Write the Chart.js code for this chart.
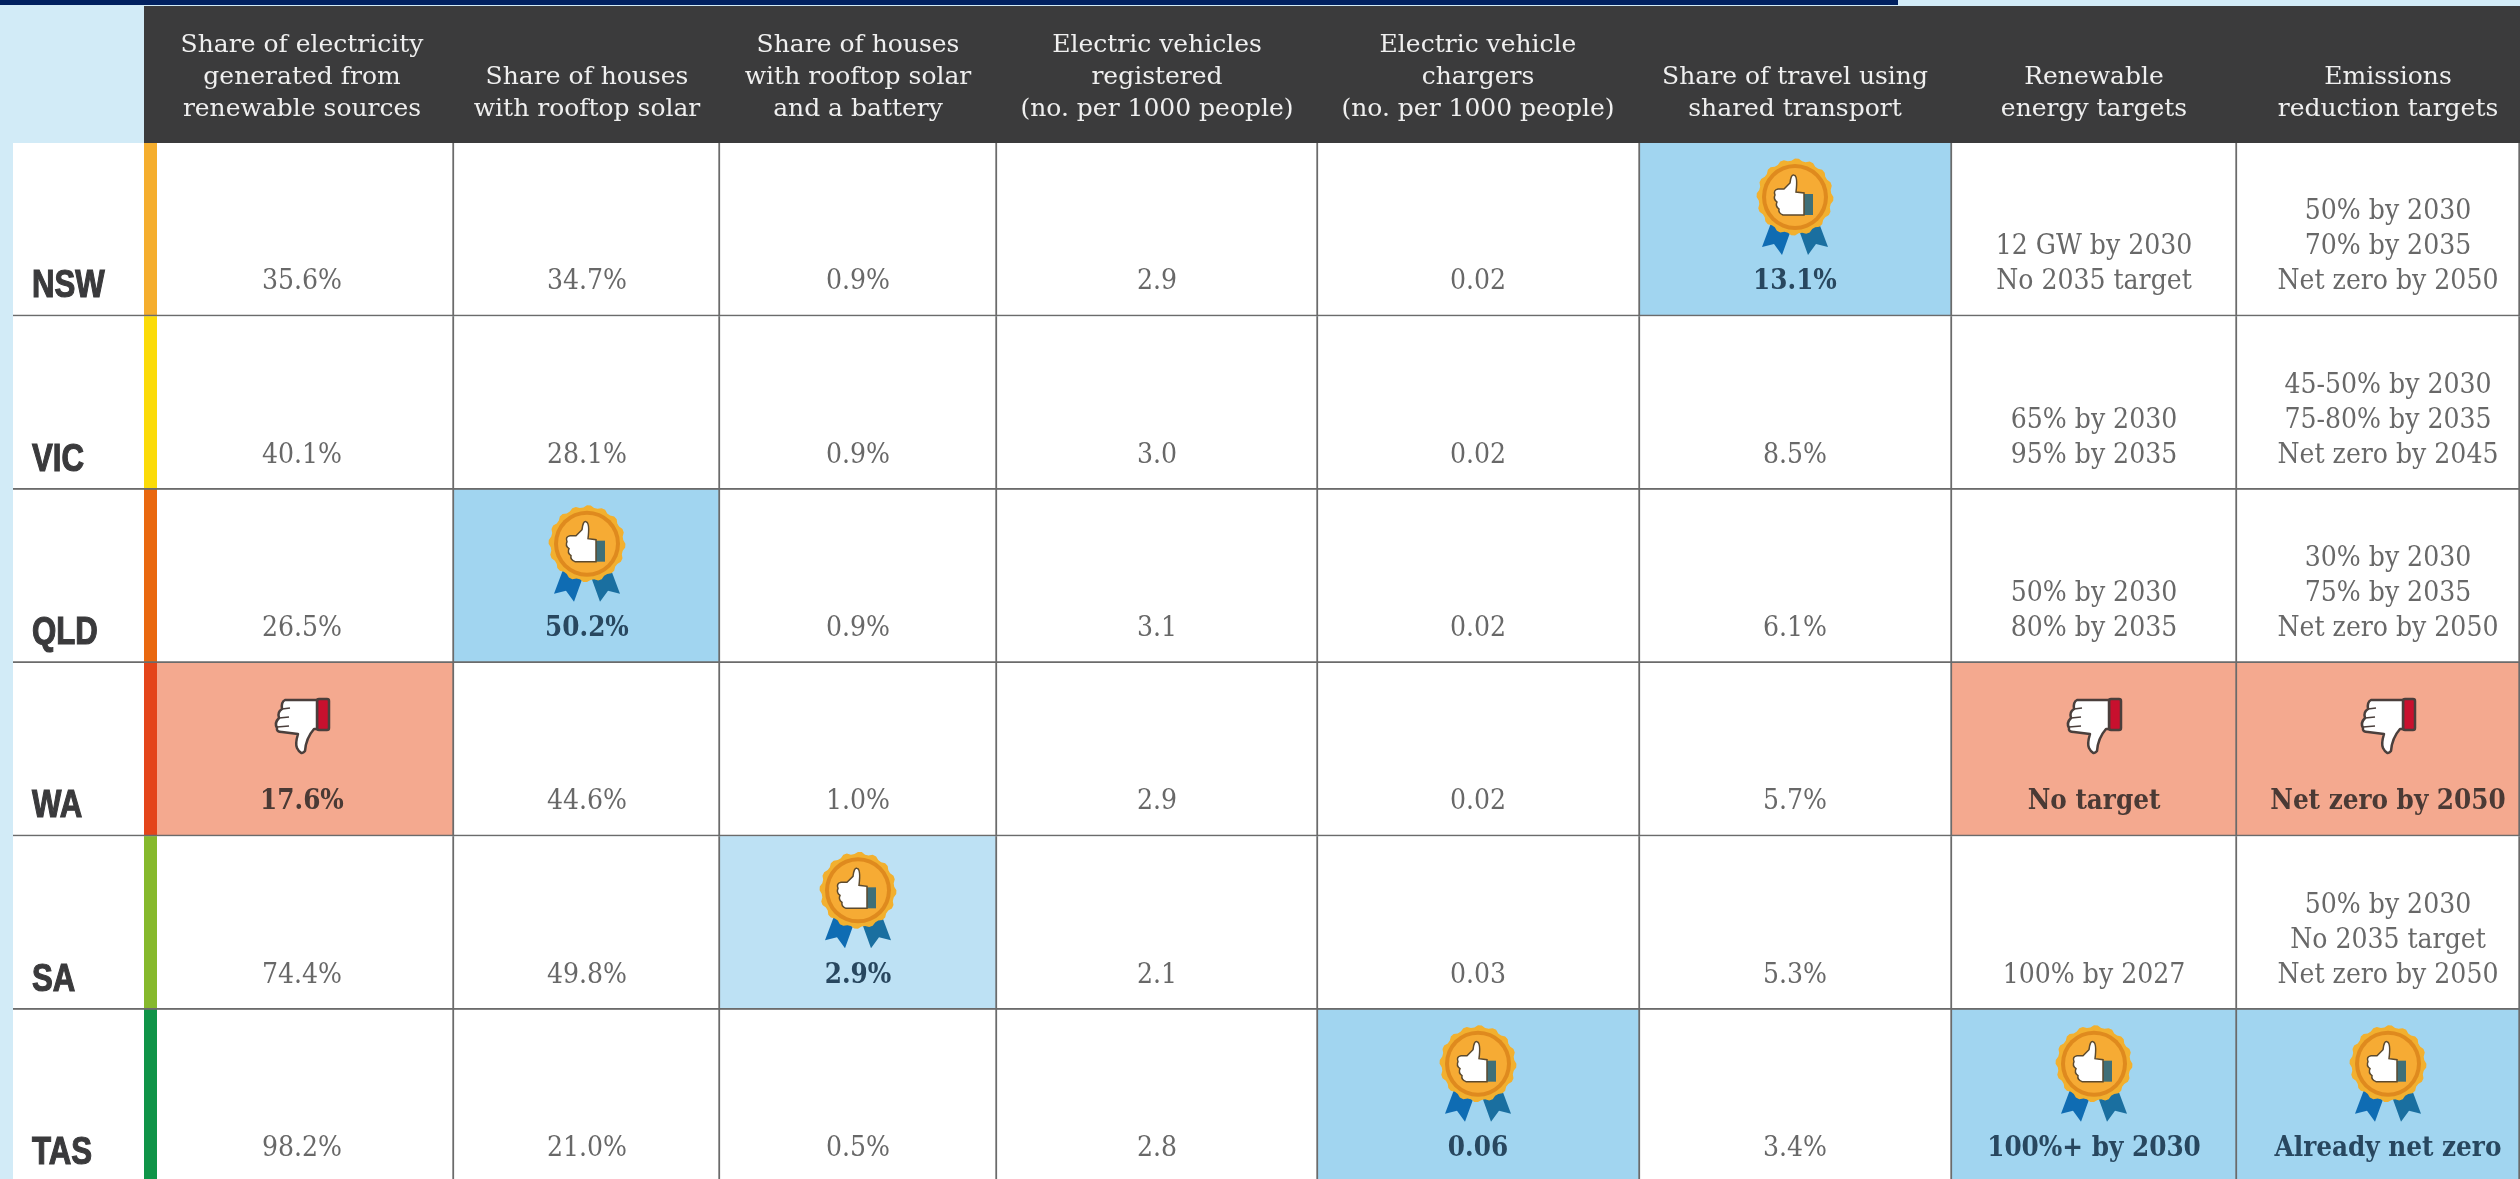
<!DOCTYPE html>
<html>
<head>
<meta charset="utf-8">
<script src="https://cdn.jsdelivr.net/npm/chart.js@4"></script>
<style>
  html, body { margin: 0; padding: 0; background: #d2ebf7; overflow: hidden; }
  canvas { display: block; }
</style>
</head>
<body>
<canvas id="scorecard" width="2520" height="1183"></canvas>
<script>
const states = ['NSW', 'VIC', 'QLD', 'WA', 'SA', 'TAS'];

const headers = [
    ['Share of electricity', 'generated from', 'renewable sources'],
    ['Share of houses', 'with rooftop solar'],
    ['Share of houses', 'with rooftop solar', 'and a battery'],
    ['Electric vehicles', 'registered', '(no. per 1000 people)'],
    ['Electric vehicle', 'chargers', '(no. per 1000 people)'],
    ['Share of travel using', 'shared transport'],
    ['Renewable', 'energy targets'],
    ['Emissions', 'reduction targets']
];

const electricityShare = [35.6, 40.1, 26.5, 17.6, 74.4, 98.2];
const solarShare = [34.7, 28.1, 50.2, 44.6, 49.8, 21.0];
const batteryShare = [0.9, 0.9, 0.9, 1.0, 2.9, 0.5];
const evRegistered = [2.9, 3.0, 3.1, 2.9, 2.1, 2.8];
const evChargers = [0.02, 0.02, 0.02, 0.02, 0.03, 0.06];
const sharedTravel = [13.1, 8.5, 6.1, 5.7, 5.3, 3.4];
const renewableTargets = [
    ['12 GW by 2030', 'No 2035 target'],
    ['65% by 2030', '95% by 2035'],
    ['50% by 2030', '80% by 2035'],
    ['No target'],
    ['100% by 2027'],
    ['100%+ by 2030']
];
const emissionsTargets = [
    ['50% by 2030', '70% by 2035', 'Net zero by 2050'],
    ['45-50% by 2030', '75-80% by 2035', 'Net zero by 2045'],
    ['30% by 2030', '75% by 2035', 'Net zero by 2050'],
    ['Net zero by 2050'],
    ['50% by 2030', 'No 2035 target', 'Net zero by 2050'],
    ['Already net zero']
];

// [state index, column index]
const bestCells = [[0, 5], [2, 1], [4, 2], [5, 4], [5, 6], [5, 7]];
const worstCells = [[3, 0], [3, 6], [3, 7]];

const pct = v => [v.toFixed(1) + '%'];
const columns = [
    electricityShare.map(pct),
    solarShare.map(pct),
    batteryShare.map(pct),
    evRegistered.map(v => [v.toFixed(1)]),
    evChargers.map(v => [v.toFixed(2)]),
    sharedTravel.map(pct),
    renewableTargets,
    emissionsTargets
];

// layout, in canvas pixels
const colEdges = [157, 454, 720, 997, 1318, 1640, 1952, 2237, 2520];
const colCentres = [302, 587, 858, 1157, 1478, 1795, 2094, 2388];
const stripColours = ['#f5ae2e', '#fbdb08', '#e9680f', '#e4451a', '#86b92c', '#0f9448'];
const lineColour = '#6b6b6b';
const serif = '"DejaVu Serif", serif';

const isIn = (cells, r, c) => cells.some(p => p[0] === r && p[1] === c);

function cellColour(r, c) {
    if (isIn(worstCells, r, c)) return '#f4a98f';
    if (r === 4 && c === 2) return '#bde1f4';
    if (isIn(bestCells, r, c)) return '#a1d5f0';
    return '#ffffff';
}

function drawMedal(ctx, x, y) {
    ctx.save();
    ctx.translate(x, y);
    // ribbons
    ctx.fillStyle = '#0f6cb3';
    ctx.beginPath();
    ctx.moveTo(-24, 26); ctx.lineTo(-33, 50); ctx.lineTo(-21, 47); ctx.lineTo(-13, 58); ctx.lineTo(-4, 33);
    ctx.closePath(); ctx.fill();
    ctx.fillStyle = '#1a6fa0';
    ctx.beginPath();
    ctx.moveTo(24, 26); ctx.lineTo(33, 50); ctx.lineTo(21, 47); ctx.lineTo(13, 58); ctx.lineTo(4, 33);
    ctx.closePath(); ctx.fill();
    // scalloped disc
    ctx.fillStyle = '#f2b02f';
    ctx.beginPath();
    for (let i = 0; i < 64; i++) {
        const a = i / 64 * Math.PI * 2;
        const rad = 37 + (i % 4 < 2 ? 1.4 : -0.6);
        ctx.lineTo(Math.cos(a) * rad, Math.sin(a) * rad);
    }
    ctx.closePath(); ctx.fill();
    ctx.fillStyle = '#df8a1e';
    ctx.beginPath(); ctx.arc(0, 0, 33, 0, Math.PI * 2); ctx.fill();
    ctx.fillStyle = '#f6ab34';
    ctx.beginPath(); ctx.arc(0, 0, 29, 0, Math.PI * 2); ctx.fill();
    // cuff
    ctx.fillStyle = '#3f6f78';
    ctx.fillRect(9, -3, 9, 21);
    // hand
    ctx.fillStyle = '#ffffff';
    ctx.strokeStyle = '#5c4a2e';
    ctx.lineWidth = 1.5;
    ctx.beginPath();
    ctx.moveTo(-11, -8);
    ctx.lineTo(-5, -14);
    ctx.quadraticCurveTo(-4, -23, -1, -22);
    ctx.quadraticCurveTo(3, -21, 1, -5);
    ctx.lineTo(9, -4);
    ctx.lineTo(9, 18);
    ctx.lineTo(-12, 18);
    ctx.quadraticCurveTo(-17, 16, -16, 12);
    ctx.quadraticCurveTo(-20, 9, -18, 5);
    ctx.quadraticCurveTo(-22, 2, -20, -2);
    ctx.quadraticCurveTo(-22, -7, -17, -8);
    ctx.closePath();
    ctx.fill(); ctx.stroke();
    ctx.restore();
}

function drawThumbDown(ctx, x, y) {
    ctx.save();
    ctx.translate(x, y);
    ctx.lineJoin = 'round';
    ctx.lineWidth = 2.5;
    ctx.strokeStyle = '#4a3f3c';
    ctx.fillStyle = '#c8102e';
    ctx.beginPath();
    ctx.roundRect(15, -27, 12, 31, 2);
    ctx.fill(); ctx.stroke();
    ctx.fillStyle = '#ffffff';
    ctx.beginPath();
    ctx.moveTo(15, -26);
    ctx.lineTo(-17, -26);
    ctx.quadraticCurveTo(-21, -24, -20, -17);
    ctx.quadraticCurveTo(-25, -14, -23, -8);
    ctx.quadraticCurveTo(-28, -3, -25, 2);
    ctx.quadraticCurveTo(-26, 6, -20, 6);
    ctx.lineTo(-4, 8);
    ctx.quadraticCurveTo(-7, 18, -5, 22);
    ctx.quadraticCurveTo(-1, 30, 3, 25);
    ctx.quadraticCurveTo(4, 12, 12, 3);
    ctx.lineTo(15, 3);
    ctx.closePath();
    ctx.fill(); ctx.stroke();
    // fingers
    ctx.lineWidth = 1.6;
    ctx.beginPath();
    ctx.moveTo(-20, -17); ctx.lineTo(-12, -18);
    ctx.moveTo(-23, -8); ctx.lineTo(-13, -9);
    ctx.moveTo(-25, 1); ctx.lineTo(-13, 0);
    ctx.stroke();
    ctx.restore();
}

// frame behind the cells: page tint, navy rule, dark header band
const framePlugin = {
    id: 'frame',
    beforeDraw(chart) {
        const { ctx, width, chartArea } = chart;
        ctx.save();
        ctx.fillStyle = '#d2ebf7';
        ctx.fillRect(0, 0, width, chart.height);
        ctx.fillStyle = '#00205f';
        ctx.fillRect(0, 0, 1898, 5);
        ctx.fillStyle = '#3b3b3c';
        ctx.fillRect(144, 6, width - 144, chartArea.top - 6);
        ctx.restore();
    }
};

// state names, cell values and the medals
const cellTextPlugin = {
    id: 'cellText',
    afterDatasetsDraw(chart) {
        const { ctx } = chart;
        const y = chart.scales.y;
        const rowH = y.getPixelForValue(1) - y.getPixelForValue(0);
        ctx.save();
        states.forEach((state, r) => {
            const bottom = y.getPixelForValue(r) + rowH / 2;
            const top = bottom - rowH;
            ctx.textAlign = 'left';
            ctx.textBaseline = 'alphabetic';
            ctx.fillStyle = '#3a3a3c';
            ctx.strokeStyle = '#3a3a3c';
            ctx.lineWidth = 1.2;
            ctx.font = 'bold 38px "Liberation Sans", sans-serif';
            // no narrow face installed, so squeeze the bold one and thicken it a bit
            ctx.save();
            ctx.translate(32, bottom - 19);
            ctx.scale(0.82, 1);
            ctx.fillText(state, 0, 0);
            ctx.strokeText(state, 0, 0);
            ctx.restore();

            columns.forEach((col, c) => {
                const x = chart.scales.x.getPixelForValue(colCentres[c]);
                const best = isIn(bestCells, r, c);
                const worst = isIn(worstCells, r, c);
                if (best) drawMedal(ctx, x, top + 54);
                if (worst) drawThumbDown(ctx, x, top + 63);
                ctx.textAlign = 'center';
                ctx.font = (best || worst ? 'bold condensed 27.5px ' : 'condensed 28px ') + serif;
                ctx.fillStyle = best ? '#28475f' : worst ? '#4a3a35' : '#686868';
                const lines = col[r];
                lines.forEach((line, i) => {
                    ctx.fillText(line, x, bottom - 27 - (lines.length - 1 - i) * 35);
                });
            });
        });
        ctx.restore();
    }
};

const border = { top: 0, left: 0, right: 2, bottom: 2 };

const datasets = [
    {
        label: 'state',
        data: states.map(() => [13, 144]),
        backgroundColor: '#ffffff',
        borderColor: lineColour,
        borderWidth: { top: 0, left: 0, right: 0, bottom: 2 }
    },
    {
        label: 'strip',
        data: states.map(() => [144, 157]),
        backgroundColor: stripColours,
        borderColor: lineColour,
        borderWidth: { top: 0, left: 0, right: 0, bottom: 2 }
    }
];
headers.forEach((h, c) => {
    datasets.push({
        label: h.join(' '),
        data: states.map(() => [colEdges[c], colEdges[c + 1]]),
        backgroundColor: states.map((s, r) => cellColour(r, c)),
        borderColor: lineColour,
        borderWidth: border
    });
});
datasets.forEach(d => {
    d.grouped = false;
    d.borderSkipped = false;
    d.barPercentage = 1;
    d.categoryPercentage = 1;
});

new Chart(document.getElementById('scorecard').getContext('2d'), {
    type: 'bar',
    data: { labels: states, datasets },
    plugins: [framePlugin, cellTextPlugin],
    options: {
        indexAxis: 'y',
        responsive: false,
        animation: false,
        layout: { padding: 0 },
        plugins: { legend: { display: false }, tooltip: { enabled: false } },
        scales: {
            x: {
                type: 'linear',
                position: 'top',
                min: 0,
                max: 2520,
                grid: { display: false, drawTicks: false },
                border: { display: false },
                afterBuildTicks: scale => { scale.ticks = colCentres.map(v => ({ value: v })); },
                afterFit: scale => { scale.height = 143; },
                ticks: {
                    autoSkip: false,
                    maxRotation: 0,
                    minRotation: 0,
                    padding: 18,
                    color: '#efefef',
                    font: { family: serif, style: 'condensed', size: 25, lineHeight: '32px' },
                    callback: (v, i) => headers[i]
                }
            },
            y: { type: 'category', display: false }
        }
    }
});
</script>
</body>
</html>
